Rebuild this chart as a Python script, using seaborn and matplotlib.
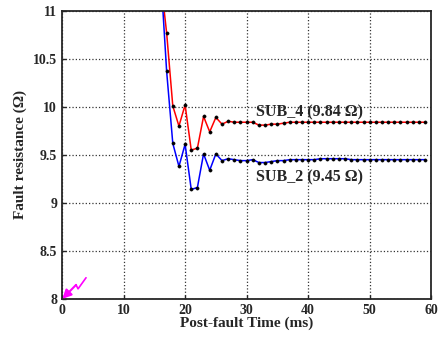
import pandas as pd
import matplotlib.pyplot as plt
import seaborn as sns

# post-fault time (ms) and estimated fault resistance (ohm)
time_ms = list(range(16, 60))
sub4 = [11.35, 10.77, 10.01, 9.80, 10.02, 9.55, 9.57, 9.90, 9.74, 9.89,
        9.82, 9.85, 9.84, 9.84, 9.84, 9.84, 9.81, 9.81, 9.82, 9.82,
        9.83] + [9.84] * 23
sub2 = [11.42, 10.37, 9.62, 9.38, 9.61, 9.14, 9.16, 9.51, 9.34, 9.51,
        9.44, 9.46, 9.45, 9.44, 9.44, 9.45, 9.42, 9.42, 9.43, 9.44,
        9.44, 9.45, 9.45, 9.45, 9.45, 9.45, 9.46, 9.46, 9.46, 9.46,
        9.46] + [9.45] * 13
labels = ["SUB_4 (9.84 \u03A9)", "SUB_2 (9.45 \u03A9)"]

df = pd.DataFrame({"t": time_ms, "SUB_4": sub4, "SUB_2": sub2})

sns.set_style("ticks")
plt.rcParams["font.family"] = ["Liberation Serif", "DejaVu Serif"]
plt.rcParams["font.weight"] = "bold"

fig = plt.figure(figsize=(4.4, 3.4), dpi=100)
ax = fig.add_axes([0.141, 0.121, 0.839, 0.847])

mk = dict(marker="o", markersize=2.3, markerfacecolor="black",
          markeredgecolor="black", markeredgewidth=0.4, linewidth=1.1)
sns.lineplot(data=df, x="t", y="SUB_4", color="red", ax=ax, **mk)
sns.lineplot(data=df, x="t", y="SUB_2", color="blue", ax=ax, **mk)

ax.text(31.6, 9.94, labels[0], fontsize=11.5, fontweight="bold", va="center")
ax.text(31.6, 9.27, labels[1], fontsize=11.5, fontweight="bold", va="center")

# fault indicator (lightning arrow) at origin
ax.plot([3.9, 2.6, 2.28], [8.22, 8.104, 8.146], color="magenta",
        linewidth=1.2, clip_on=False, solid_capstyle="round")
ax.annotate("", xy=(0.05, 8.0), xytext=(2.28, 8.146),
            arrowprops=dict(arrowstyle="-|>", color="magenta", lw=1.5,
                            mutation_scale=13, shrinkA=0, shrinkB=0),
            annotation_clip=False)

ax.set_xlim(0, 60)
ax.set_ylim(8, 11)
ax.set_xticks([0, 10, 20, 30, 40, 50, 60])
ax.set_yticks([8, 8.5, 9, 9.5, 10, 10.5, 11])
ax.set_yticklabels(["8", "8.5", "9", "9.5", "10", "10.5", "11"])
ax.grid(True, linestyle=":", color="#333333", linewidth=0.9)
ax.tick_params(direction="in", length=3, labelsize=10, width=1)
for lab in ax.get_xticklabels() + ax.get_yticklabels():
    lab.set_fontweight("bold")
for s in ax.spines.values():
    s.set_linewidth(1.3)
    s.set_visible(True)

ax.set_xlabel("Post-fault Time (ms)", fontsize=11, fontweight="bold", labelpad=0)
ax.set_ylabel("Fault resistance (\u03A9)", fontsize=11, fontweight="bold", labelpad=4)

fig.savefig("out.png", dpi=100)
